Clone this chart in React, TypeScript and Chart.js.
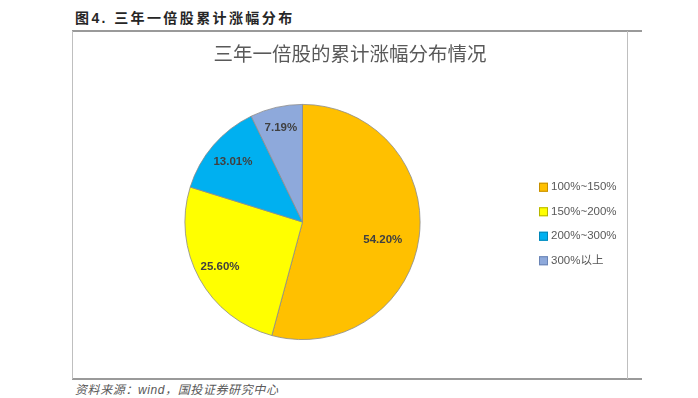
import React, { useEffect, useRef } from "react";
import { Chart, registerables } from "chart.js";

Chart.register(...registerables);

const chartTitle = "三年一倍股的累计涨幅分布情况";
const categories = ["100%~150%", "150%~200%", "200%~300%", "300%以上"];
const shares = [54.2, 25.6, 13.01, 7.19];
const shareLabels = ["54.20%", "25.60%", "13.01%", "7.19%"];
const colors = ["#FFC000", "#FFFF00", "#00B0F0", "#8EA9DB"];
const legendBorders = ["#c58f00", "#b5b500", "#0086b8", "#6a84b5"];
const labelRadius = [0.7, 0.8, 0.78, 0.82];
const labelAngleShift = [0.09, 0, 0, 0];

const FONT = "'Liberation Sans', 'Noto Sans CJK SC', sans-serif";

const labelPlugin = {
  id: "sliceLabels",
  afterDatasetsDraw(chart: any) {
    const ctx = chart.ctx;
    const meta = chart.getDatasetMeta(0);
    ctx.save();
    ctx.font = `bold 11.5px ${FONT}`;
    ctx.fillStyle = "#404040";
    ctx.textAlign = "center";
    ctx.textBaseline = "middle";
    meta.data.forEach((arc: any, i: number) => {
      const p = arc.getProps(["x", "y", "startAngle", "endAngle", "outerRadius"], true);
      const mid = (p.startAngle + p.endAngle) / 2 + labelAngleShift[i];
      const r = p.outerRadius * labelRadius[i];
      ctx.fillText(shareLabels[i], p.x + Math.cos(mid) * r, p.y + Math.sin(mid) * r);
    });
    ctx.restore();
  },
};

const titleLegendPlugin = {
  id: "titleAndLegend",
  afterDraw(chart: any) {
    const ctx = chart.ctx;
    const area = chart.chartArea;
    ctx.save();
    // title centred over the whole chart box
    ctx.font = `19.5px ${FONT}`;
    ctx.fillStyle = "#595959";
    ctx.textAlign = "center";
    ctx.textBaseline = "middle";
    ctx.fillText(chartTitle, chart.width / 2, 24);
    // legend
    const spacing = 24.5;
    const x = area.right + 12;
    const cy = (area.top + area.bottom) / 2 + 2;
    const y0 = cy - (spacing * (categories.length - 1)) / 2;
    ctx.font = `11.5px ${FONT}`;
    ctx.textAlign = "left";
    categories.forEach((c, i) => {
      const y = y0 + i * spacing;
      ctx.fillStyle = colors[i];
      ctx.fillRect(x, y - 4.5, 9, 9);
      ctx.strokeStyle = legendBorders[i];
      ctx.lineWidth = 1;
      ctx.strokeRect(x + 0.5, y - 4, 8, 8);
      ctx.fillStyle = "#595959";
      ctx.fillText(c, x + 12, y);
    });
    ctx.restore();
  },
};

export default function App() {
  const ref = useRef<HTMLCanvasElement>(null);
  useEffect(() => {
    const chart = new Chart(ref.current!, {
      type: "pie",
      data: {
        labels: categories,
        datasets: [
          {
            data: shares,
            backgroundColor: colors,
            borderColor: "#8c8c8c",
            borderWidth: 0.8,
          },
        ],
      },
      options: {
        animation: false,
        responsive: false,
        maintainAspectRatio: false,
        layout: { padding: { left: 5, right: 100, top: 72, bottom: 37 } },
        plugins: {
          title: { display: false },
          legend: { display: false },
          tooltip: { enabled: false },
        },
      },
      plugins: [labelPlugin, titleLegendPlugin],
    });
    return () => chart.destroy();
  }, []);

  return (
    <div
      style={{
        position: "fixed",
        left: 0,
        top: 0,
        width: 698,
        height: 398,
        background: "#fff",
        overflow: "hidden",
      }}
    >
      <div
        style={{
          position: "absolute",
          left: 75,
          top: 7,
          fontFamily: FONT,
          fontWeight: "bold",
          fontSize: 14,
          letterSpacing: 2.4,
          color: "#262626",
          whiteSpace: "nowrap",
        }}
      >
        图4. 三年一倍股累计涨幅分布
      </div>
      <div style={{ position: "absolute", left: 72, top: 30, width: 570, height: 2, background: "#9a9a9a" }} />
      <div style={{ position: "absolute", left: 72, top: 378, width: 570, height: 2, background: "#9a9a9a" }} />
      <div style={{ position: "absolute", left: 72, top: 31, width: 1, height: 348, background: "#bfbfbf" }} />
      <div style={{ position: "absolute", left: 627, top: 31, width: 1, height: 348, background: "#bfbfbf" }} />
      <canvas
        ref={ref}
        width={554}
        height={345}
        style={{ position: "absolute", left: 73, top: 32, width: 554, height: 345 }}
      />
      <div
        style={{
          position: "absolute",
          left: 75,
          top: 380,
          fontFamily: FONT,
          fontStyle: "italic",
          fontSize: 12,
          letterSpacing: 0.6,
          color: "#595959",
          whiteSpace: "nowrap",
        }}
      >
        资料来源：wind，国投证券研究中心
      </div>
    </div>
  );
}
